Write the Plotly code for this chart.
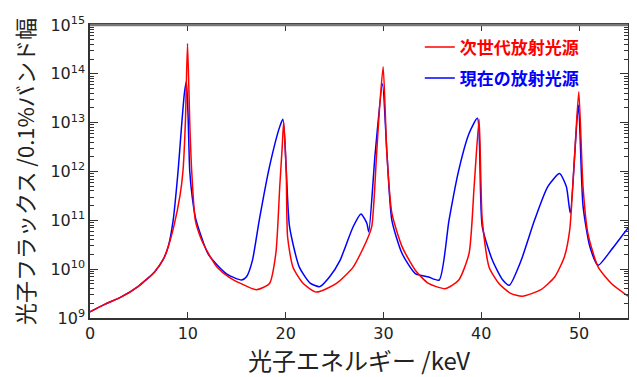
import plotly.graph_objects as go

# Photon energy (keV) and photon flux (/0.1% bandwidth)
energy_next = [0, 1.5, 3.2, 4.9, 6.6, 7.5, 8.0, 8.6, 9.2, 9.5, 9.75, 9.97, 10.2, 10.4, 10.77, 11.4,
               12.1, 13.0, 14.2, 15.5, 17.0, 18.35, 19.0, 19.4, 19.65, 19.8, 20.06, 20.2, 20.75,
               21.8, 23.15, 25.2, 26.9, 28.3, 28.8, 29.3, 29.6, 29.97, 30.35, 30.86, 31.9, 33.26,
               34.6, 36.35, 37.7, 38.75, 39.27, 39.78, 40.1, 40.8, 41.8, 43.0, 44.2, 46.1, 47.5,
               48.5, 49.04, 49.55, 49.97, 50.4, 50.9, 51.95, 53.3, 55.0]
flux_next = [1.33e9, 1.9e9, 2.7e9, 4.4e9, 8.8e9, 1.6e10, 2.9e10, 8.0e10, 3.2e11, 1.0e12, 1.0e13, 4.2e14,
             1.0e13, 1.0e12, 1.0e11, 4.0e10,
             2.1e10, 1.1e10, 6.9e9, 5.0e9, 3.8e9, 5.1e9, 2.1e10, 5.0e11, 3.2e12, 1.05e13, 1.0e12, 4.6e10, 1.1e10,
             5.1e9, 3.4e9, 5.1e9, 1.1e10, 3.9e10, 7.4e10, 2.3e12, 2.0e13, 1.4e14, 2.3e12, 1.4e11, 2.9e10, 9.5e9,
             5.1e9, 4.0e9, 6.0e9, 2.1e10, 4.9e11, 1.17e13, 1.0e11, 1.1e10, 5.1e9, 3.2e9, 2.8e9, 3.8e9, 6.9e9,
             1.8e10, 6.3e10, 2.3e12, 4.3e13, 4.9e11, 5.4e10, 1.1e10, 5.1e9, 2.8e9]

energy_now = [0, 1.5, 3.2, 4.9, 6.6, 7.5, 8.0, 8.5, 9.0, 9.35, 9.65, 9.85, 10.02, 10.2, 10.45, 10.8, 12.1, 14.0,
              15.5, 16.0, 16.6, 17.3, 18.35, 19.4, 19.72, 20.06, 20.4, 21.4, 22.5, 23.5, 24.5, 25.55,
              26.9, 27.7, 28.3, 28.5, 29.15, 29.9, 30.35, 30.86, 31.9, 33.26, 34.6, 35.7, 36.7, 37.7,
              38.75, 39.6, 40.1, 41.15, 42.2, 42.87, 44.07, 45.44, 46.8, 48.0, 48.7, 49.1, 49.93,
              50.4, 51.1, 51.95, 53.3, 55.0]
flux_now = [1.33e9, 1.9e9, 2.7e9, 4.4e9, 8.8e9, 1.6e10, 2.9e10, 1.0e11, 1.0e12, 8.0e12, 4.0e13, 7.0e13, 1.5e13,
            1.0e12, 3.0e11, 1.1e11, 2.0e10, 7.9e9,
            6.0e9, 7.0e9, 1.5e10, 1.0e11, 1.26e12, 8.3e12, 1.17e13, 1.1e12, 7.4e10, 1.1e10, 5.2e9, 4.4e9, 7.0e9, 1.5e10,
            7.4e10, 1.35e11, 8.7e10, 5.8e10, 2.3e12, 6.3e13, 2.5e12, 1.0e11, 2.1e10, 8.1e9, 6.9e9, 6.0e9, 1.0e11, 1.07e12,
            6.0e12, 1.23e13, 7.4e10, 1.5e10, 6.0e9, 4.7e9, 1.5e10, 1.0e11, 4.9e11, 9.1e11, 4.9e11, 1.4e11, 2.3e13,
            2.0e11, 2.9e10, 1.2e10, 2.5e10, 7.0e10]

name_next = "次世代放射光源"
name_now = "現在の放射光源"
x_title = "光子エネルギー /keV"
y_title = "光子フラックス /0.1%バンド幅"
x_ticks = [0, 10, 20, 30, 40, 50]
y_tick_exps = [9, 10, 11, 12, 13, 14, 15]

RED = "#ff0000"
BLUE = "#0000ff"
CJK = "Noto Sans CJK JP"
NUM = "DejaVu Sans"

minor_vals = [m * 10 ** e for e in y_tick_exps[:-1] for m in range(2, 10)]

fig = go.Figure()
fig.add_trace(go.Scatter(
    x=energy_now, y=flux_now, mode="lines",
    line=dict(color=BLUE, width=1.5, shape="spline", smoothing=0.6),
    name=f'<span style="color:{BLUE}"><b>{name_now}</b></span>',
    legendrank=2, legendgroup="b"))
fig.add_trace(go.Scatter(
    x=energy_next, y=flux_next, mode="lines",
    line=dict(color=RED, width=1.5, shape="spline", smoothing=0.6),
    name=f'<span style="color:{RED}"><b>{name_next}</b></span>',
    legendrank=1, legendgroup="a"))

# the page body adds an 8px offset, so the figure is 8px smaller with 8px less left/top margin
fig.update_layout(
    width=629, height=369,
    margin=dict(l=82, r=9, t=17, b=59),
    paper_bgcolor="white", plot_bgcolor="white",
    showlegend=True,
    legend=dict(x=0.613, y=0.985, xanchor="left", yanchor="top",
                bgcolor="rgba(0,0,0,0)", font=dict(family=CJK, size=17),
                tracegroupgap=6, traceorder="grouped"),
)
fig.update_xaxes(
    range=[0, 55], tickvals=x_ticks, ticktext=[str(v) for v in x_ticks],
    ticks="inside", ticklen=6, tickwidth=1.2, tickcolor="#333",
    showline=True, linecolor="#333", linewidth=1.5, mirror="allticks",
    showgrid=False, zeroline=False, automargin=False,
    tickfont=dict(family=NUM, size=16, color="#222"),
    title=dict(text=x_title, font=dict(family=CJK, size=24, color="#222"), standoff=6),
)
fig.update_yaxes(
    type="log", range=[9, 15],
    tickvals=[10 ** e for e in y_tick_exps],
    ticktext=[f"10<sup>{e}</sup>" for e in y_tick_exps],
    ticks="inside", ticklen=8, tickwidth=1.2, tickcolor="#333",
    minor=dict(ticks="inside", ticklen=4, tickwidth=1, tickcolor="#333",
               tickmode="array", tickvals=minor_vals, showgrid=False),
    showline=True, linecolor="#333", linewidth=1.5, mirror="allticks",
    showgrid=False, zeroline=False, automargin=False,
    tickfont=dict(family=NUM, size=16, color="#222"),
    title=dict(text=y_title, font=dict(family=CJK, size=22, color="#222"), standoff=10),
)
# top frame edge drawn slightly heavier and grey, as in the reference
fig.add_shape(type="line", xref="paper", yref="paper", x0=0, x1=1, y0=1, y1=1,
              line=dict(color="#777", width=2.5))

fig.write_html("out.html")
